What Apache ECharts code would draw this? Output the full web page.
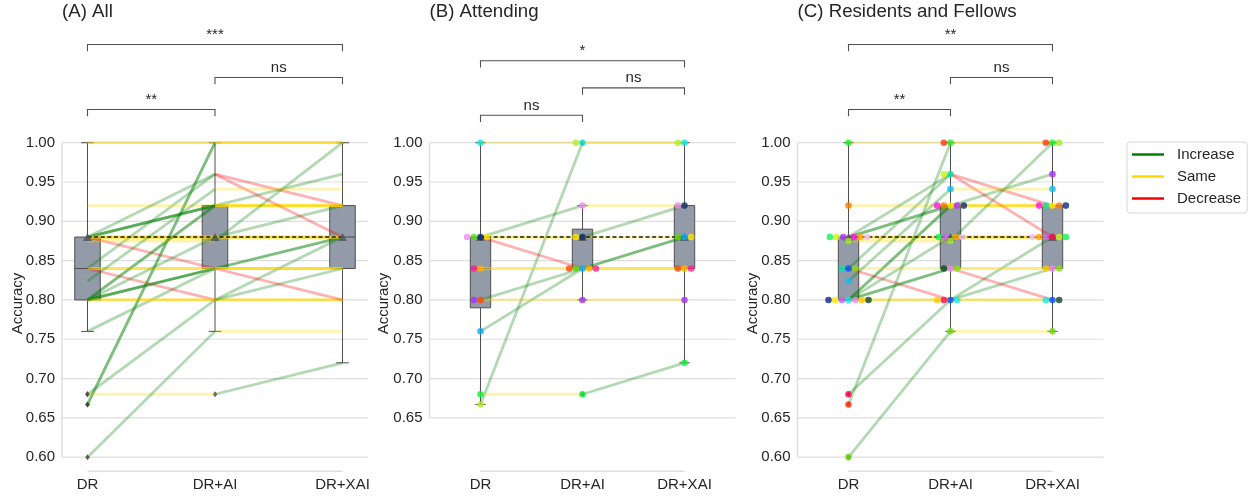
<!DOCTYPE html>
<html>
<head>
<meta charset="utf-8">
<script src="https://cdn.jsdelivr.net/npm/echarts@6/dist/echarts.min.js"></script>
<style>
  html, body { margin: 0; padding: 0; background: #ffffff; }
  #chart { width: 1255px; height: 497px; }
</style>
</head>
<body>
<div id="chart"></div>
<script>
// ---------------- data ----------------
const conditions = ['DR', 'DR+AI', 'DR+XAI'];
const aiAloneAccuracy = 0.88;

const tickValuesAll = [0.60, 0.65, 0.70, 0.75, 0.80, 0.85, 0.90, 0.95, 1.00];
const tickValuesAttending = [0.65, 0.70, 0.75, 0.80, 0.85, 0.90, 0.95, 1.00];

// Attending physicians: one entry per reader
const attendingColors = ['#16e6d6', '#b2ee2e', '#0b2f6b', '#12a8f2', '#5cd80e', '#ffe600',
                         '#ee8cee', '#ffb000', '#ff4800', '#ff1e8a', '#9d35f5', '#14ee3c'];
const attendingDR  = [1.00, 0.667, 0.88, 0.76, 0.88, 0.88, 0.88, 0.84, 0.80, 0.84, 0.80, 0.68];
const attendingAI  = [1.00, 1.00,  0.88, 0.84, 0.84, 0.88, 0.92, 0.84, 0.84, 0.84, 0.80, 0.68];
const attendingXAI = [1.00, 1.00,  0.92, 0.88, 0.88, 0.88, 0.92, 0.84, 0.84, 0.84, 0.80, 0.72];

// Residents and fellows: one entry per reader
const residentColors = ['#0a50ff', '#ff0a50', '#10e8f0', '#c860f8', '#ee88e8', '#ffe800',
                        '#10e0a8', '#ff7a00', '#a832fa', '#ff10e8', '#ccf510', '#ffa500',
                        '#10f550', '#f0c0f0', '#ffc800', '#0a2a80', '#0a4a28', '#88e010',
                        '#22ee22', '#ff3a10', '#a0ee20', '#10bef8', '#70d810'];
const residentDR  = [0.84, 0.68, 0.80, 0.80, 0.80, 0.80, 0.84, 0.92, 0.88, 0.88, 0.88, 0.88,
                     0.88, 0.88, 0.80, 0.80, 0.80, 0.84, 1.00, 0.667, 0.875, 0.824, 0.60];
const residentAI  = [0.80, 0.80, 0.80, 0.88, 0.84, 0.92, 0.96, 0.92, 0.92, 0.92, 0.96, 0.88,
                     0.88, 0.88, 0.80, 0.92, 0.84, 0.84, 1.00, 1.00, 0.875, 0.941, 0.76];
const residentXAI = [0.80, 0.88, 0.80, 0.88, 0.84, 0.92, 0.92, 0.92, 0.96, 0.92, 0.88, 0.88,
                     0.88, 0.88, 0.84, 0.92, 0.80, 0.84, 1.00, 1.00, 1.00, 0.941, 0.76];

// All readers
const allDR  = attendingDR.concat(residentDR);
const allAI  = attendingAI.concat(residentAI);
const allXAI = attendingXAI.concat(residentXAI);

// Significance brackets: condition pairs, heights (accuracy units) and labels
const bracketPairs = [[0, 1], [1, 2], [0, 2]];
const bracketLevelsAll = [1.0422, 1.0830, 1.1249];
const bracketLabelsAll = ['**', 'ns', '***'];
const bracketLevelsAttending = [1.0350, 1.0698, 1.1042];
const bracketLabelsAttending = ['ns', 'ns', '*'];
const bracketLevelsResidents = [1.0422, 1.0830, 1.1249];
const bracketLabelsResidents = ['**', 'ns', '**'];

const changeNames = ['Increase', 'Same', 'Decrease'];
const changeColors = ['#008000', '#ffd700', '#ff0000'];

// ---------------- layout / style ----------------
const FONT = '"Liberation Sans", Arial, Helvetica, sans-serif';
const TEXT = '#262626';
const Y_MIN = 0.5811, Y_MAX = 1.1434;
const GRID_TOP = 30, GRID_H = 442, GRID_W = 306;
const PX_PER_Y = GRID_H / (Y_MAX - Y_MIN);
const DOT_DIAM = 6.35;

const panels = [
  { title: '(A) All', left: 62, xMin: -0.2, xMax: 2.2, ticks: tickValuesAll,
    scores: [allDR, allAI, allXAI], colors: null,
    levels: bracketLevelsAll, labels: bracketLabelsAll, nameX: 17.5 },
  { title: '(B) Attending', left: 429.5, xMin: -0.5, xMax: 2.5, ticks: tickValuesAttending,
    scores: [attendingDR, attendingAI, attendingXAI], colors: attendingColors,
    levels: bracketLevelsAttending, labels: bracketLabelsAttending, nameX: 384 },
  { title: '(C) Residents and Fellows', left: 797.5, xMin: -0.5, xMax: 2.5, ticks: tickValuesAll,
    scores: [residentDR, residentAI, residentXAI], colors: residentColors,
    levels: bracketLevelsResidents, labels: bracketLabelsResidents, nameX: 752.5 }
];

// ---------------- statistics ----------------
function quantile(sorted, p) {
  const pos = (sorted.length - 1) * p;
  const lo = Math.floor(pos), hi = Math.ceil(pos);
  return sorted[lo] + (sorted[hi] - sorted[lo]) * (pos - lo);
}
function boxStats(values) {
  const s = values.slice().sort((a, b) => a - b);
  const q1 = quantile(s, 0.25), med = quantile(s, 0.5), q3 = quantile(s, 0.75);
  const iqr = q3 - q1;
  const loFence = q1 - 1.5 * iqr, hiFence = q3 + 1.5 * iqr;
  const inside = s.filter(v => v >= loFence && v <= hiFence);
  return {
    lo: Math.min.apply(null, inside), q1: q1, med: med, q3: q3,
    hi: Math.max.apply(null, inside),
    fliers: s.filter(v => v < loFence || v > hiFence)
  };
}

// beeswarm offsets (pixels) for one column of values
function swarmOffsets(values) {
  const order = values.map((v, i) => i).sort((a, b) => (values[a] - values[b]) || (a - b));
  const placed = [];
  const out = new Array(values.length).fill(0);
  order.forEach(i => {
    const y = values[i] * PX_PER_Y;
    const nb = [];
    for (let k = placed.length - 1; k >= 0; k--) {
      if (y - placed[k].y < DOT_DIAM) nb.unshift(placed[k]); else break;
    }
    const cands = [0];
    let leftFirst = true;
    nb.forEach(p => {
      const dy = y - p.y;
      const dx = Math.sqrt(Math.max(DOT_DIAM * DOT_DIAM - dy * dy, 0)) * 1.05;
      if (leftFirst) cands.push(p.x - dx, p.x + dx); else cands.push(p.x + dx, p.x - dx);
      leftFirst = !leftFirst;
    });
    const idx = cands.map((c, k) => k)
      .sort((a, b) => (Math.abs(cands[a]) - Math.abs(cands[b])) || (a - b));
    let x = 0;
    for (const k of idx) {
      const c = cands[k];
      if (nb.every(p => (p.x - c) * (p.x - c) + (p.y - y) * (p.y - y) >= DOT_DIAM * DOT_DIAM - 1e-6)) {
        x = c; break;
      }
    }
    placed.push({ x: x, y: y });
    out[i] = x;
  });
  return out;
}

// ---------------- option ----------------
const grids = [], xAxes = [], yAxes = [], series = [], titles = [], graphics = [];

panels.forEach((P, pi) => {
  const xPxPerUnit = GRID_W / (P.xMax - P.xMin);
  grids.push({ left: P.left, top: GRID_TOP, width: GRID_W, height: GRID_H });
  xAxes.push({
    gridIndex: pi, type: 'value', min: P.xMin, max: P.xMax,
    axisLine: { show: false }, axisTick: { show: false }, splitLine: { show: false },
    axisLabel: {
      customValues: [0, 1, 2], formatter: v => conditions[Math.round(v)],
      fontSize: 15, color: TEXT, fontFamily: FONT, margin: 5
    }
  });
  yAxes.push({
    gridIndex: pi, type: 'value', min: Y_MIN, max: Y_MAX,
    axisLine: { show: false }, axisTick: { show: false }, splitLine: { show: false },
    axisLabel: {
      customValues: P.ticks, formatter: v => v.toFixed(2),
      fontSize: 15, color: TEXT, fontFamily: FONT, margin: 7
    }
  });
  titles.push({
    text: P.title, left: P.left, top: 2, padding: 0,
    textStyle: { fontSize: 18.7, fontWeight: 'normal', color: TEXT, fontFamily: FONT }
  });
  graphics.push({
    type: 'text', x: P.nameX, y: 303.5, rotation: Math.PI / 2,
    style: { text: 'Accuracy', font: '15px ' + FONT, fill: TEXT, align: 'center', verticalAlign: 'middle' }
  });

  const axisRef = { xAxisIndex: pi, yAxisIndex: pi };

  // grid lines and trimmed spines
  series.push(Object.assign({
    type: 'custom', z: 1, silent: true,
    data: P.ticks.map(t => [P.xMin, t]),
    renderItem: (params, api) => {
      const t = api.value(1);
      const a = api.coord([P.xMin, t]), b = api.coord([P.xMax, t]);
      const children = [{
        type: 'line', shape: { x1: a[0], y1: a[1], x2: b[0], y2: b[1] },
        style: { stroke: '#dedede', lineWidth: 1.2 }
      }];
      if (params.dataIndex === 0) {
        const s0 = api.coord([P.xMin, P.ticks[0]]), s1 = api.coord([P.xMin, P.ticks[P.ticks.length - 1]]);
        const b0 = api.coord([0, Y_MIN]), b1 = api.coord([2, Y_MIN]);
        children.push({ type: 'line', shape: { x1: s0[0], y1: s0[1], x2: s1[0], y2: s1[1] },
                        style: { stroke: '#dedede', lineWidth: 1.4 } });
        children.push({ type: 'line', shape: { x1: b0[0], y1: b0[1] - 0.7, x2: b1[0], y2: b1[1] - 0.7 },
                        style: { stroke: '#dedede', lineWidth: 1.6 } });
      }
      return { type: 'group', children: children };
    }
  }, axisRef));

  // box plots
  const stats = P.scores.map(boxStats);
  series.push(Object.assign({
    type: 'custom', z: 2, silent: true,
    data: stats.map((s, c) => [c, s.lo, s.q1, s.med, s.q3, s.hi]),
    renderItem: (params, api) => {
      const c = api.value(0), lo = api.value(1), q1 = api.value(2), med = api.value(3),
            q3 = api.value(4), hi = api.value(5);
      const stroke = '#4f4f4f';
      const pLo = api.coord([c, lo]), pHi = api.coord([c, hi]);
      const pQ1 = api.coord([c, q1]), pQ3 = api.coord([c, q3]);
      const left = api.coord([c - 0.1, q3]), right = api.coord([c + 0.1, q1]);
      const capL = api.coord([c - 0.05, lo])[0], capR = api.coord([c + 0.05, lo])[0];
      const pMed = api.coord([c, med]);
      const line = (x1, y1, x2, y2) => ({ type: 'line', shape: { x1, y1, x2, y2 },
                                           style: { stroke: stroke, lineWidth: 1 } });
      return { type: 'group', children: [
        line(pQ3[0], pQ3[1], pHi[0], pHi[1]),
        line(pQ1[0], pQ1[1], pLo[0], pLo[1]),
        line(capL, pHi[1], capR, pHi[1]),
        line(capL, pLo[1], capR, pLo[1]),
        { type: 'rect', shape: { x: left[0], y: left[1], width: right[0] - left[0], height: right[1] - left[1] },
          style: { fill: '#929ba7', stroke: stroke, lineWidth: 1 } },
        line(left[0], pMed[1], right[0], pMed[1])
      ] };
    }
  }, axisRef));

  // fliers
  const flierData = [];
  stats.forEach((s, c) => s.fliers.forEach(v => flierData.push([c, v])));
  series.push(Object.assign({
    type: 'scatter', z: 3, silent: true, symbol: 'diamond', symbolSize: [4.5, 6],
    itemStyle: { color: '#3d3d3d' }, data: flierData
  }, axisRef));

  // per-reader change lines
  const segs = [];
  const [s0, s1, s2] = P.scores;
  s0.forEach((v, i) => {
    [[0, s0[i], s1[i]], [1, s1[i], s2[i]]].forEach(([c, a, b]) => {
      const kind = Math.abs(b - a) < 1e-9 ? 1 : (b > a ? 0 : 2);
      segs.push([c, a, c + 1, b, kind]);
    });
  });
  series.push(Object.assign({
    type: 'custom', z: 4, silent: true, data: segs,
    renderItem: (params, api) => {
      const a = api.coord([api.value(0), api.value(1)]);
      const b = api.coord([api.value(2), api.value(3)]);
      return { type: 'line', shape: { x1: a[0], y1: a[1], x2: b[0], y2: b[1] },
               style: { stroke: changeColors[api.value(4)], lineWidth: 2.8, opacity: 0.3 } };
    }
  }, axisRef));

  // AI-alone reference: dashed line and triangle markers
  series.push(Object.assign({
    type: 'custom', z: 5, silent: true, data: [[0, aiAloneAccuracy, 2]],
    renderItem: (params, api) => {
      const a = api.coord([api.value(0), api.value(1)]), b = api.coord([api.value(2), api.value(1)]);
      return { type: 'line', shape: { x1: a[0], y1: a[1], x2: b[0], y2: b[1] },
               style: { stroke: '#1a1a1a', lineWidth: 1.6, lineDash: [4, 2.6] } };
    }
  }, axisRef));
  series.push(Object.assign({
    type: 'scatter', z: 6, silent: true, symbol: 'triangle', symbolSize: [9, 8],
    itemStyle: { color: '#4c545e' },
    data: [0, 1, 2].map(c => [c, aiAloneAccuracy])
  }, axisRef));

  // reader dots (swarm)
  if (P.colors) {
    const dots = [];
    P.scores.forEach((col, c) => {
      const offs = swarmOffsets(col);
      col.forEach((v, i) => dots.push({
        value: [c + offs[i] / xPxPerUnit, v], itemStyle: { color: P.colors[i] }
      }));
    });
    series.push(Object.assign({
      type: 'scatter', z: 7, silent: true, symbol: 'circle', symbolSize: 6.6, data: dots
    }, axisRef));
  }

  // significance brackets
  series.push(Object.assign({
    type: 'custom', z: 8, silent: true,
    data: bracketPairs.map((pr, k) => [pr[0], pr[1], P.levels[k]]),
    renderItem: (params, api) => {
      const a = api.coord([api.value(0), api.value(2)]), b = api.coord([api.value(1), api.value(2)]);
      const tip = 6.8;
      return { type: 'group', children: [
        { type: 'polyline',
          shape: { points: [[a[0], a[1] + tip], [a[0], a[1]], [b[0], b[1]], [b[0], b[1] + tip]] },
          style: { stroke: '#505050', lineWidth: 1.1, fill: null } },
        { type: 'text', x: (a[0] + b[0]) / 2, y: a[1] - 9.5,
          style: { text: P.labels[params.dataIndex], font: '15px ' + FONT, fill: TEXT,
                   align: 'center', verticalAlign: 'middle',
                   textAlign: 'center', textVerticalAlign: 'middle' } }
      ] };
    }
  }, axisRef));
});

// legend entries
changeNames.forEach((name, k) => {
  series.push({ type: 'line', name: name, data: [], xAxisIndex: 0, yAxisIndex: 0,
                color: changeColors[k], itemStyle: { color: changeColors[k] },
                lineStyle: { color: changeColors[k] } });
});

const option = {
  animation: false,
  backgroundColor: '#ffffff',
  title: titles,
  grid: grids,
  xAxis: xAxes,
  yAxis: yAxes,
  graphic: graphics,
  legend: {
    orient: 'vertical', left: 1127, top: 142,
    data: changeNames.map(n => ({ name: n, icon: 'rect' })),
    itemWidth: 32, itemHeight: 2.5, itemGap: 5,
    selectedMode: false,
    textStyle: { fontSize: 15, color: TEXT, fontFamily: FONT, lineHeight: 17, padding: [0, 0, 0, 8] },
    borderColor: '#d6d6d6', borderWidth: 1, borderRadius: 3,
    padding: [4, 6, 6, 5]
  },
  series: series
};

const chart = echarts.init(document.getElementById('chart'), null, { renderer: 'canvas' });
chart.setOption(option);
</script>
</body>
</html>
